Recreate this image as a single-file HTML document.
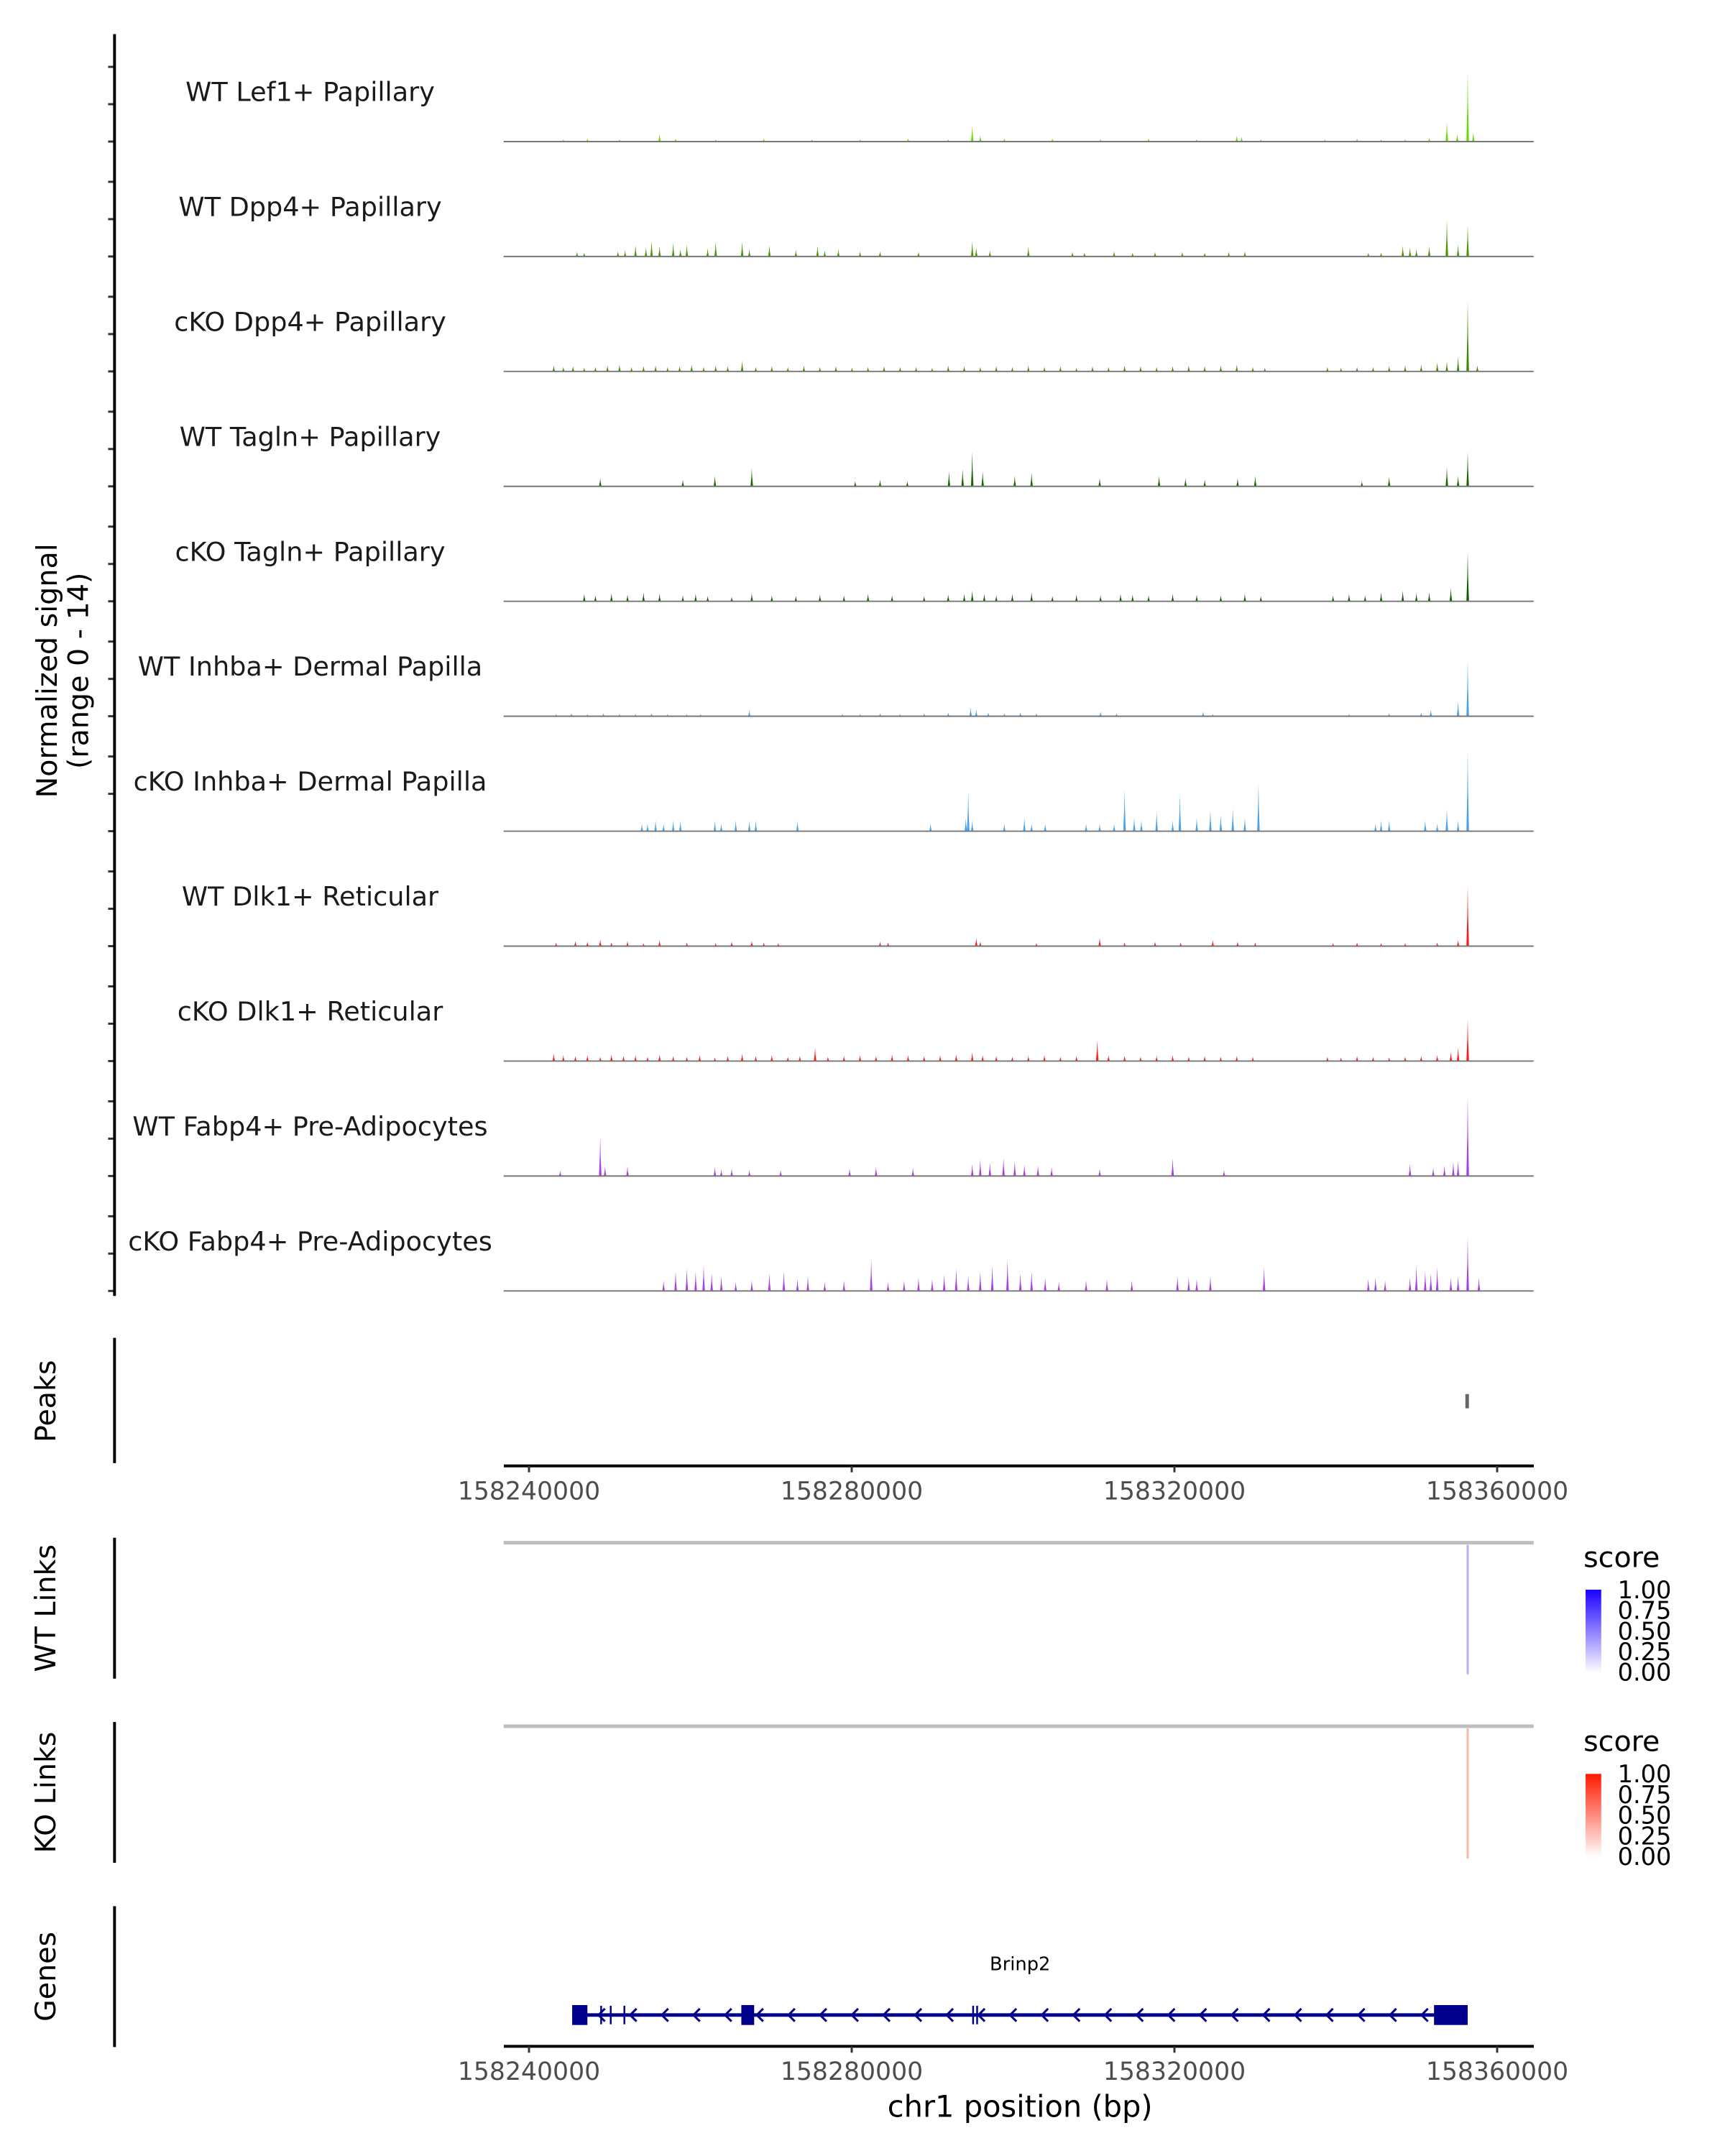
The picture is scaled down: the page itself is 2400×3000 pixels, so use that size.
<!DOCTYPE html>
<html><head><meta charset="utf-8"><style>
html,body{margin:0;padding:0;background:#fff;}
svg{display:block;font-family:"DejaVu Sans","Liberation Sans",sans-serif;}
</style></head><body>
<svg id="chart" width="2400" height="3000" viewBox="0 0 2400 3000" xmlns="http://www.w3.org/2000/svg">
<g id="root" transform="scale(0.9897)">
<g id="tracks"></g>
<g id="fixed">
  <line x1="161" y1="48" x2="161" y2="1822" stroke="#000" stroke-width="4"/>
  <text transform="translate(80,943) rotate(-90)" text-anchor="middle" font-size="40">Normalized signal</text>
  <text transform="translate(124,943) rotate(-90)" text-anchor="middle" font-size="40">(range 0 - 14)</text>

  <line x1="161" y1="1881" x2="161" y2="2057" stroke="#000" stroke-width="4"/>
  <text transform="translate(78,1970) rotate(-90)" text-anchor="middle" font-size="40">Peaks</text>

  <line x1="161" y1="2162" x2="161" y2="2360" stroke="#000" stroke-width="4"/>
  <text transform="translate(78,2261) rotate(-90)" text-anchor="middle" font-size="40">WT Links</text>
  <line x1="708" y1="2169" x2="2156" y2="2169" stroke="#bebebe" stroke-width="5"/>

  <line x1="161" y1="2421" x2="161" y2="2619" stroke="#000" stroke-width="4"/>
  <text transform="translate(78,2520) rotate(-90)" text-anchor="middle" font-size="40">KO Links</text>
  <line x1="708" y1="2427" x2="2156" y2="2427" stroke="#bebebe" stroke-width="5"/>

  <line x1="161" y1="2680" x2="161" y2="2878" stroke="#000" stroke-width="4"/>
  <text transform="translate(78,2779) rotate(-90)" text-anchor="middle" font-size="40">Genes</text>

  <text x="2226" y="2203" font-size="40">score</text>
  <defs>
    <linearGradient id="gBlue" x1="0" y1="1" x2="0" y2="0"><stop offset="0" stop-color="#fff"/><stop offset="1" stop-color="#1a00ff"/></linearGradient>
    <linearGradient id="gRed" x1="0" y1="1" x2="0" y2="0"><stop offset="0" stop-color="#fff"/><stop offset="1" stop-color="#ff1a00"/></linearGradient>
  </defs>
  <rect x="2229" y="2235" width="22" height="117" fill="url(#gBlue)"/>
  <g font-size="34">
    <text x="2274" y="2247">1.00</text><text x="2274" y="2276">0.75</text><text x="2274" y="2305">0.50</text><text x="2274" y="2334">0.25</text><text x="2274" y="2363">0.00</text>
  </g>
  <text x="2226" y="2462" font-size="40">score</text>
  <rect x="2229" y="2494" width="22" height="117" fill="url(#gRed)"/>
  <g font-size="34">
    <text x="2274" y="2506">1.00</text><text x="2274" y="2535">0.75</text><text x="2274" y="2564">0.50</text><text x="2274" y="2593">0.25</text><text x="2274" y="2622">0.00</text>
  </g>
  <text x="1434" y="2770" text-anchor="middle" font-size="26">Brinp2</text>
  <text x="1434" y="2976" text-anchor="middle" font-size="42">chr1 position (bp)</text>
</g>
</g>
</svg>
<script>
const kbStart = 158240000;
const trackNames = ["WT Lef1+ Papillary","WT Dpp4+ Papillary","cKO Dpp4+ Papillary","WT Tagln+ Papillary","cKO Tagln+ Papillary","WT Inhba+ Dermal Papilla","cKO Inhba+ Dermal Papilla","WT Dlk1+ Reticular","cKO Dlk1+ Reticular","WT Fabp4+ Pre-Adipocytes","cKO Fabp4+ Pre-Adipocytes"];
const trackColors = ["#66d900","#4a9600","#3d8a00","#1a6600","#0f5c00","#4aa3e8","#4aa3e8","#ff1a1a","#ff1a1a","#a83ee8","#a83ee8"];
// peak positions (kb readings) and signal values
const lef1Pos = [5,8,12,17,19,24,30,36,42,48,53,56,57,60,66,72,78,84,89,89.6,92,100,104,107,110,113,115.2,116.5,117.8,118.5];
const lef1Val = [.3,.4,.3,1.0,.4,.3,.4,.3,.3,.4,.3,2.1,.8,.4,.4,.3,.4,.3,.8,.6,.3,.3,.4,.3,.3,.5,2.6,1.0,9.4,1.2];
const dpp4Pos = [6.7,7.6,11.8,12.7,14,15.3,16,17,18.7,19.6,20.4,23,24,27.3,28.2,30.7,34,36.7,37.6,39.3,42,44.5,49.3,56,56.5,58.2,63,68.5,70,73.7,76,78.8,82.2,85,88,90,105.4,107,109.7,110.6,111.4,113,115.2,116.6,117.8];
const dpp4Val = [.6,.5,.7,.8,1.5,1.2,2.1,1.4,1.8,1.0,1.6,1.1,2.0,2.0,1.0,1.5,.9,1.4,.8,1.0,.7,.7,.6,2.0,1.2,.8,1.3,.6,.5,.7,.5,.6,.6,.5,.6,.7,.5,.5,1.4,1.2,1.0,1.4,4.9,1.6,4.2];
const ckoDpp4Pos = [3.8,5,6.2,7.6,9,10.5,12,13.5,15,16.5,18,19.5,21,22.5,24,25.5,27.3,29,31,33,35,37,39,41,43,45,47,49,51,53,55,57,59,61,63,65,67,69,71,73,75,77,79,81,83,85,87,89,91,92.5,100.3,102,104,106,108,110,112,114,115.2,116.6,117.8,119];
const ckoDpp4Val = [.8,.6,.7,.5,.6,.8,.9,.6,.7,.8,.6,.7,.9,.6,.8,.7,1.4,.6,.7,.6,.8,.6,.7,.5,.6,.7,.6,.6,.5,.8,.7,.6,.7,.6,.8,.6,.7,.5,.7,.6,.8,.7,.6,.7,.8,.7,.8,.9,.6,.5,.6,.5,.6,.6,.7,.8,.9,1.2,1.3,2.0,9.4,.8];
const taglnPos = [9.6,19.9,23.9,28.5,41.4,44.5,47.9,53.1,54.8,56,57.3,61.3,63.4,71.9,79.3,82.6,85,89.1,91.3,104.6,108,115.2,116.6,117.8];
const taglnVal = [1.1,.9,1.4,2.4,.7,.9,.7,2.0,2.3,4.6,2.0,1.4,1.8,1.1,1.4,1.1,.9,1.1,1.4,.7,1.3,2.6,1.4,4.6];
const ckoTaglnPos = [7.6,9,11,13,15,17,19.9,21.5,23,26,28.5,31,34,37,40,43,46,50,53,55,56,57.5,59,61,63.4,66,69,72,74.5,76,78,81,84,87,90,92,101,103,105,107,109.7,111.4,113,115.7,117.8];
const ckoTaglnVal = [1.0,.8,1.1,.9,1.2,1.0,.8,1.0,.7,.6,1.1,.8,.7,.9,.8,1.0,.8,.7,.9,1.0,1.4,1.0,.8,1.0,1.2,.7,.9,.8,1.0,.9,.8,1.0,.9,.8,1.0,.7,.8,1.0,.8,1.2,1.4,1.1,1.2,1.8,6.6];
const inhbaPos = [4.1,6,8,10,12,14,16,18,20.4,22.1,28.2,39.8,42,44.5,47,50,53,55.8,56.5,58,60,62,64,72,74,84.8,86,103,108,112,113.2,116.6,117.8];
const inhbaVal = [.3,.4,.3,.4,.3,.3,.4,.3,.3,.3,.8,.3,.3,.4,.3,.4,.5,1.2,.9,.5,.4,.5,.4,.6,.4,.6,.3,.3,.4,.5,.9,2.0,7.5];
const ckoInhbaPos = [14.8,15.5,16.5,17.5,18.7,19.6,23.9,24.7,26.5,28.2,29,34.2,50.8,55.2,55.5,56,60,62.5,63.4,65.1,70.2,71.9,73.7,75,76.2,77.1,79,81,81.9,84,85.7,87,88.5,90,91.7,106.3,107,108,112.5,114,115.2,116.6,117.8];
const ckoInhbaVal = [1.0,1.0,1.4,1.0,1.4,1.4,1.4,1.0,1.4,1.4,1.4,1.4,1.0,1.8,5.3,1.4,1.0,1.8,1.0,1.0,1.0,1.0,1.0,5.6,1.8,1.4,2.6,1.4,5.0,1.8,2.8,2.2,3.0,1.8,6.4,1.0,1.4,1.4,1.4,1.0,3.0,1.4,10.8];
const dlk1Pos = [4.1,6.5,8,9.6,11,13,15,17,20.4,24,26,28.5,30,31.8,44.5,45.5,56.5,57,64,71.9,75,78.8,82,86,89.1,91.3,101,104,107,110,114,116.6,117.8];
const dlk1Val = [.5,.7,.6,.9,.5,.7,.4,.8,.5,.4,.6,.7,.5,.4,.6,.5,1.1,.6,.4,1.1,.5,.6,.5,.8,.6,.5,.4,.5,.4,.4,.5,.8,8.0];
const ckoDlk1Pos = [3.8,5,6.5,8,9.6,11,12.5,14,15.5,17,18.7,20.4,22,23.9,25.5,27.3,29,31,33,34.5,36.4,38,40,42,44,46,48,50,52,54,56,57.3,59,61,63,65,67,69,71.6,73,75,77,79,81,83,85,87,89,91,100.3,102,104,106,108,110,112,114,115.7,116.6,117.8];
const ckoDlk1Val = [1.0,.8,.7,.8,.6,.9,.7,.8,.6,.9,.7,.6,.8,.5,.7,1.0,.7,.8,.6,.7,1.8,.6,.7,.8,.7,.9,.8,.7,.8,.9,1.2,.8,.7,.6,.7,.8,.6,.7,2.8,.8,.7,.6,.7,.8,.6,.7,.6,.7,.6,.6,.5,.7,.6,.5,.6,.7,.8,1.2,1.8,5.6];
const fabp4Pos = [4.6,9.6,10.2,13,23.9,24.7,26,28.2,32.1,40.7,44,48.6,56,57,58.2,59.9,61.3,62.5,64.2,65.9,71.9,81,87.4,110.6,113.5,114.9,116,116.6,117.8];
const fabp4Val = [.7,5.2,1.3,1.3,1.2,.9,1.0,.8,.8,1.0,1.2,1.1,1.6,2.2,1.8,2.4,2.0,1.5,1.4,1.2,1.0,2.4,.8,1.6,1.1,1.4,1.9,2.0,10.8];
const ckoFabp4Pos = [17.5,19,20.4,21.5,22.5,23.5,24.7,26.5,28.5,30.7,32.5,34.2,35.5,37.6,40,43.4,45.5,47.5,49.3,51,52.5,54,55.5,57,58.5,60.4,62,63.4,65.1,66.8,70.2,72.8,75.9,81.6,83,84,85.7,92.4,105.4,106.3,107.5,110.6,111.4,112.5,113.2,114,115.7,116.6,117.8,119.2];
const ckoFabp4Val = [1.4,2.6,3.0,2.6,3.4,2.4,2.0,1.2,1.4,2.4,2.6,1.6,2.0,1.2,1.4,4.2,1.2,1.4,1.8,1.6,2.2,3.0,2.0,2.6,3.4,4.2,2.4,2.6,1.8,1.2,1.4,1.6,1.4,2.0,1.8,1.6,2.0,3.2,1.6,1.8,1.4,1.8,3.4,2.6,2.4,3.2,1.8,2.0,7.2,1.8];
const trackPos = [lef1Pos,dpp4Pos,ckoDpp4Pos,taglnPos,ckoTaglnPos,inhbaPos,ckoInhbaPos,dlk1Pos,ckoDlk1Pos,fabp4Pos,ckoFabp4Pos];
const trackVal = [lef1Val,dpp4Val,ckoDpp4Val,taglnVal,ckoTaglnVal,inhbaVal,ckoInhbaVal,dlk1Val,ckoDlk1Val,fabp4Val,ckoFabp4Val];
const axisTicks = [158240000,158280000,158320000,158360000];
const yTickValues = [0,5,10];
const peakRegions = [[117.6,118.0]];
const linkPositions = [117.8];
const exonStarts = [6.1,9.6,10.8,12.5,27.2,56.0,56.5,113.6];
const exonEnds = [8.0,9.8,11.0,12.7,28.8,56.2,56.7,117.8];
const geneStartKb = 6.1, geneEndKb = 117.8;

const NS = "http://www.w3.org/2000/svg";
const S = 0.9897;
const cal = k => 0.9937 * k - 0.71;
const xKb = kb => (736 + kb * 1347 / 120) / S;
const xScale = k => xKb(cal(k));
const xBp = bp => xKb((bp - kbStart) / 1000);
const baseY = i => 199 + i * 161.6;
const yScale = v => v * 10.5;
function mk(tag, attrs, parent) {
  const e = document.createElementNS(NS, tag);
  for (const k in attrs) e.setAttribute(k, attrs[k]);
  parent.appendChild(e);
  return e;
}
const tg = document.getElementById("tracks");
trackNames.forEach((name, i) => {
  const b = baseY(i);
  const g = mk("g", {}, tg);
  
  
  const t = mk("text", {x: 436, y: b - 57, "text-anchor": "middle", "font-size": 37, fill: "#1a1a1a"}, g);
  t.textContent = name;
  
  
  yTickValues.forEach(v => {
    const tk = mk("line", {x1: 152, x2: 161, y1: b - yScale(v), y2: b - yScale(v), stroke: "#333", "stroke-width": 3}, g);
    
    
  });
  let d = "";
  trackPos[i].forEach((p, j) => {
    const x = xScale(p), h = yScale(trackVal[i][j]);
    d += `M${x - 1.8},${b}L${x - 0.6},${b - h * 0.5}L${x},${b - h}L${x + 0.6},${b - h * 0.5}L${x + 1.8},${b}Z`;
  });
  const pth = mk("path", {d: d, fill: trackColors[i]}, g);
  
  
  const bl = mk("line", {x1: 708, x2: 2156, y1: b, y2: b, stroke: "#777", "stroke-width": 2}, g);
  
  
});
peakRegions.forEach(r => {
  const pr = mk("rect", {x: xScale(r[0]) - 1, y: 1960, width: Math.max(5, xScale(r[1]) - xScale(r[0])), height: 20, fill: "#666"}, tg);
  
  
});
linkPositions.forEach(p => {
  const l1 = mk("line", {x1: xScale(p), x2: xScale(p), y1: 2172, y2: 2354, stroke: "#bcaaf8", "stroke-width": 3}, tg);
  
  
  const l2 = mk("line", {x1: xScale(p), x2: xScale(p), y1: 2430, y2: 2613, stroke: "#f8b8a8", "stroke-width": 3}, tg);
  
  
});
[2061, 2877].forEach((ay, k) => {
  const ag = mk("g", {}, tg);
  
  
  mk("line", {x1: 701 / S, x2: 2134 / S, y1: ay, y2: ay, stroke: "#000", "stroke-width": 4}, ag);
  axisTicks.forEach(t => {
    const x = xBp(t);
    mk("line", {x1: x, x2: x, y1: ay, y2: ay + 9, stroke: "#333", "stroke-width": 3}, ag);
    const tx = mk("text", {x: x, y: ay + 47, "text-anchor": "middle", "font-size": 35, fill: "#4d4d4d"}, ag);
    tx.textContent = String(t);
    
    
  });
});
const gg = mk("g", {}, tg);


const gy = 2833;
mk("line", {x1: xScale(geneStartKb), x2: xScale(geneEndKb), y1: gy, y2: gy, stroke: "#00008b", "stroke-width": 5}, gg);
for (let x = xScale(geneStartKb) + 40; x < xScale(geneEndKb) - 45; x += 44.5) {
  mk("path", {d: `M${x + 6},${gy - 9}L${x - 3},${gy}L${x + 6},${gy + 9}`, stroke: "#00008b", "stroke-width": 3, fill: "none"}, gg);
}
exonStarts.forEach((s, j) => {
  const w = xScale(exonEnds[j]) - xScale(s);
  const ex = mk("rect", {x: xScale(s), y: w > 6 ? gy - 14 : gy - 13, width: Math.max(w, 2.5), height: w > 6 ? 28 : 26, fill: "#00008b"}, gg);
  
  
});
</script>
</body></html>
